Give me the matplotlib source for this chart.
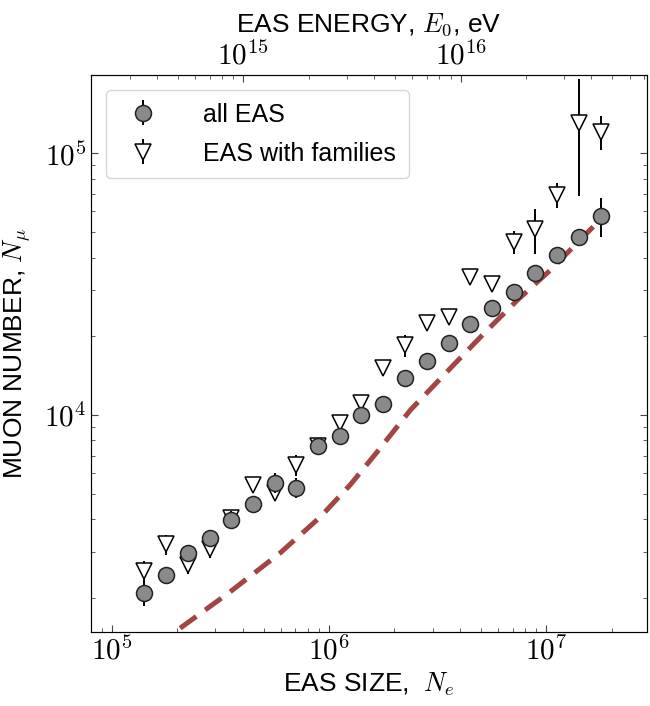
import matplotlib
matplotlib.use("Agg")
import matplotlib.pyplot as plt
from matplotlib.ticker import FuncFormatter, NullFormatter
import numpy as np

plt.rcParams["font.family"] = ["Liberation Sans", "DejaVu Sans"]
plt.rcParams["mathtext.fontset"] = "cm"

# EAS size bins, N_e
ne = [1.41e5, 1.78e5, 2.24e5, 2.82e5, 3.55e5, 4.47e5, 5.62e5, 7.08e5, 8.91e5,
      1.12e6, 1.41e6, 1.78e6, 2.24e6, 2.82e6, 3.55e6, 4.47e6, 5.62e6, 7.08e6,
      8.91e6, 1.12e7, 1.41e7, 1.78e7]

# muon number, all EAS
nmu_all = [2085, 2449, 2966, 3381, 3970, 4570, 5510, 5270, 7580, 8330, 10000,
           11020, 13810, 16070, 18790, 22220, 25650, 29450, 34990, 40840,
           47970, 57780]
err_all = [230, 120, 150, 160, 320, 200, 500, 470, 300, 300, 400, 400, 500,
           600, 700, 800, 900, 1000, 1300, 1500, 1800, 9700]

# muon number, EAS with families
nmu_fam = [2535, 3206, 2668, 3070, 4036, 5407, 5044, 6443, 7620, 9297, 11080,
           15070, 18500, 22530, 23610, 33570, 31560, 45920, 51300, 69350,
           130900, 121000]
err_fam = [220, 280, 200, 220, 250, 300, 350, 600, 450, 700, 800, 1000, 1800,
           1300, 1400, 2000, 2000, 4500, 10000, 7500, 62000, 18000]

# dashed reference curve
line_ne = [1.58e5, 1.96e5, 3.51e5, 5.97e5, 9.12e5, 1.253e6, 1.667e6, 2.371e6,
           3.741e6, 5.358e6, 7.362e6, 1.045e7, 1.837e7]
line_nmu = [1306, 1483, 2109, 2972, 4074, 5408, 7228, 10447, 15524, 21135,
            27479, 35810, 57544]

E_PER_NE = 2.48e9  # E0 / Ne conversion for the top axis
XLIM = (8.0e4, 2.9e7)
YLIM = (1.48e3, 2.0e5)


def pow10(v, pos):
    return r"$10^{%d}$" % round(np.log10(v))


fig = plt.figure(figsize=(6.5, 7.06), dpi=100)
ax = fig.add_axes([0.1395, 0.1048, 0.8554, 0.7894])

ax.plot(line_ne, line_nmu, ls=(0, (4, 2.2)), color="#a34545", lw=3.6, zorder=1)

fam = ax.errorbar(ne, nmu_fam, yerr=err_fam, fmt="v", ms=12, mfc="white",
                  mec="black", mew=1.1, ecolor="black", elinewidth=1.4,
                  zorder=2, label="EAS with families")
alls = ax.errorbar(ne, nmu_all, yerr=err_all, fmt="o", ms=11.5, mfc="#8a8a8a",
                   mec="#222222", mew=1.1, ecolor="black", elinewidth=1.4,
                   zorder=3, label="all EAS")

ax.set_xscale("log")
ax.set_yscale("log")
ax.set_xlim(*XLIM)
ax.set_ylim(*YLIM)
for axis in (ax.xaxis, ax.yaxis):
    axis.set_major_formatter(FuncFormatter(pow10))
    axis.set_minor_formatter(NullFormatter())

ax.set_xlabel("EAS SIZE,  $N_e$", fontsize=19, labelpad=4)
ax.set_ylabel("MUON NUMBER, $N_\\mu$", fontsize=19, labelpad=8)
ax.tick_params(which="both", direction="in", right=True, top=False,
               labelsize=21, color="#444444", pad=3)
ax.tick_params(which="major", length=5)
ax.tick_params(which="minor", length=3)
for s in ax.spines.values():
    s.set_color("#444444")

ax2 = ax.twiny()
ax2.set_xscale("log")
ax2.set_xlim(XLIM[0] * E_PER_NE, XLIM[1] * E_PER_NE)
ax2.xaxis.set_major_formatter(FuncFormatter(pow10))
ax2.xaxis.set_minor_formatter(NullFormatter())
ax2.set_xlabel("EAS ENERGY, $E_0$, eV", fontsize=19, labelpad=7)
ax2.tick_params(which="both", direction="in", labelsize=21, color="#444444",
                pad=3)
ax2.tick_params(which="major", length=5)
ax2.tick_params(which="minor", length=3)

leg = ax.legend(handles=[alls, fam], loc="upper left",
                bbox_to_anchor=(0.0275, 0.9725), borderaxespad=0,
                fontsize=18, frameon=True, edgecolor="#cccccc",
                handletextpad=1.4, labelspacing=0.6, borderpad=0.5)

fig.savefig("out.png", dpi=100)
